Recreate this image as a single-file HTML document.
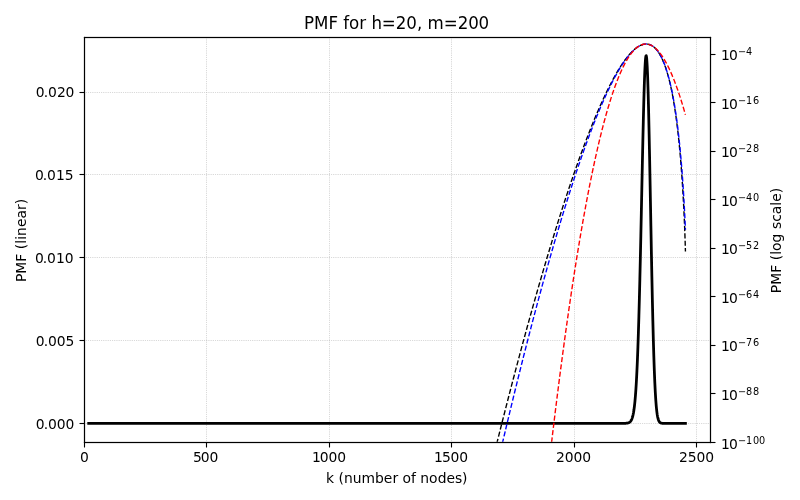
<!DOCTYPE html>
<html lang="en"><head><meta charset="utf-8"><title>PMF for h=20, m=200</title>
<style>html,body{margin:0;padding:0;background:#fff;overflow:hidden}svg{display:block}text{font-family:"DejaVu Sans","Liberation Sans",sans-serif;fill:#000}</style></head><body>
<svg width="800" height="500" viewBox="0 0 800 500">
<rect width="800" height="500" fill="#fff"/>
<defs><clipPath id="ax"><rect x="83.778" y="37.333" width="626.152" height="404.389"/></clipPath></defs>
<g stroke="#b0b0b0" stroke-width="0.6944" stroke-dasharray="0.69444 1.14583" fill="none" clip-path="url(#ax)">
<path d="M84.5 442.5V37.5"/>
<path d="M206.5 442.5V37.5"/>
<path d="M329.5 442.5V37.5"/>
<path d="M451.5 442.5V37.5"/>
<path d="M574.5 442.5V37.5"/>
<path d="M696.5 442.5V37.5"/>
<path d="M84.5 423.5H710.5"/>
<path d="M84.5 340.5H710.5"/>
<path d="M84.5 257.5H710.5"/>
<path d="M84.5 174.5H710.5"/>
<path d="M84.5 92.5H710.5"/>
</g>
<g stroke="#000" stroke-width="1.111" fill="none">
<path d="M84.5 442.5v5.0"/>
<path d="M206.5 442.5v5.0"/>
<path d="M329.5 442.5v5.0"/>
<path d="M451.5 442.5v5.0"/>
<path d="M574.5 442.5v5.0"/>
<path d="M696.5 442.5v5.0"/>
<path d="M84.5 423.5h-5.0"/>
<path d="M84.5 340.5h-5.0"/>
<path d="M84.5 257.5h-5.0"/>
<path d="M84.5 174.5h-5.0"/>
<path d="M84.5 92.5h-5.0"/>
<path d="M710.5 54.5h5.0"/>
<path d="M710.5 102.5h5.0"/>
<path d="M710.5 151.5h5.0"/>
<path d="M710.5 199.5h5.0"/>
<path d="M710.5 248.5h5.0"/>
<path d="M710.5 296.5h5.0"/>
<path d="M710.5 345.5h5.0"/>
<path d="M710.5 393.5h5.0"/>
<path d="M710.5 442.5h5.0"/>
</g>
<path d="M88.68 423.34 L622.23 423.34 L622.47 423.34 L622.72 423.33 L622.96 423.33 L623.21 423.33 L623.45 423.33 L623.70 423.33 L623.94 423.32 L624.19 423.32 L624.43 423.31 L624.68 423.31 L624.92 423.30 L625.17 423.29 L625.41 423.28 L625.66 423.27 L625.90 423.26 L626.15 423.24 L626.39 423.22 L626.64 423.20 L626.88 423.17 L627.13 423.14 L627.37 423.10 L627.62 423.05 L627.86 423.00 L628.11 422.94 L628.35 422.86 L628.60 422.78 L628.84 422.68 L629.09 422.56 L629.33 422.42 L629.58 422.26 L629.82 422.08 L630.07 421.87 L630.31 421.62 L630.56 421.34 L630.80 421.02 L631.05 420.65 L631.29 420.22 L631.54 419.74 L631.78 419.18 L632.03 418.55 L632.27 417.84 L632.52 417.03 L632.76 416.12 L633.01 415.09 L633.25 413.94 L633.50 412.64 L633.74 411.19 L633.99 409.58 L634.23 407.77 L634.48 405.77 L634.72 403.56 L634.97 401.11 L635.21 398.40 L635.46 395.43 L635.70 392.17 L635.95 388.61 L636.19 384.72 L636.44 380.49 L636.68 375.90 L636.93 370.93 L637.17 365.58 L637.42 359.82 L637.66 353.64 L637.91 347.03 L638.15 340.00 L638.40 332.52 L638.64 324.61 L638.89 316.26 L639.13 307.48 L639.38 298.28 L639.62 288.67 L639.87 278.68 L640.11 268.33 L640.36 257.65 L640.60 246.68 L640.85 235.45 L641.09 224.02 L641.34 212.43 L641.58 200.74 L641.83 189.02 L642.07 177.33 L642.32 165.74 L642.56 154.33 L642.81 143.16 L643.05 132.33 L643.30 121.91 L643.54 111.98 L643.79 102.62 L644.03 93.91 L644.28 85.92 L644.52 78.74 L644.77 72.42 L645.01 67.03 L645.26 62.63 L645.50 59.26 L645.75 56.97 L645.99 55.78 L646.24 55.71 L646.48 56.79 L646.73 59.01 L646.97 62.35 L647.22 66.80 L647.46 72.34 L647.71 78.91 L647.95 86.47 L648.20 94.95 L648.44 104.29 L648.69 114.42 L648.93 125.25 L649.18 136.69 L649.42 148.66 L649.67 161.05 L649.91 173.78 L650.16 186.75 L650.40 199.86 L650.65 213.02 L650.89 226.14 L651.14 239.14 L651.38 251.93 L651.63 264.45 L651.87 276.63 L652.12 288.41 L652.36 299.73 L652.61 310.56 L652.85 320.86 L653.10 330.60 L653.34 339.77 L653.59 348.34 L653.83 356.33 L654.08 363.72 L654.32 370.52 L654.57 376.76 L654.81 382.44 L655.06 387.60 L655.30 392.24 L655.55 396.41 L655.79 400.13 L656.04 403.43 L656.28 406.34 L656.53 408.90 L656.77 411.13 L657.02 413.07 L657.26 414.75 L657.51 416.19 L657.75 417.41 L658.00 418.46 L658.24 419.34 L658.49 420.08 L658.73 420.70 L658.98 421.21 L659.22 421.63 L659.47 421.98 L659.71 422.26 L659.96 422.49 L660.20 422.68 L660.45 422.82 L660.69 422.94 L660.94 423.03 L661.18 423.11 L661.43 423.16 L661.67 423.21 L661.92 423.24 L662.16 423.27 L662.41 423.29 L662.65 423.30 L662.90 423.31 L663.14 423.32 L663.39 423.33 L663.63 423.33 L663.87 423.33 L664.12 423.34 L664.36 423.34 L685.43 423.34" fill="none" stroke="#000" stroke-width="2.778" stroke-linecap="square" stroke-linejoin="round" clip-path="url(#ax)"/>
<path d="M482.71 501.00 L483.33 498.42 L484.06 495.37 L484.80 492.32 L485.53 489.28 L486.27 486.25 L487.00 483.22 L487.74 480.20 L488.47 477.18 L489.21 474.17 L489.94 471.16 L490.68 468.16 L491.41 465.17 L492.15 462.18 L492.88 459.20 L493.62 456.22 L494.35 453.26 L495.09 450.29 L495.82 447.34 L496.56 444.38 L497.29 441.44 L498.03 438.50 L498.76 435.57 L499.50 432.64 L500.23 429.72 L500.97 426.81 L501.70 423.90 L502.44 421.00 L503.17 418.11 L503.91 415.22 L504.64 412.34 L505.38 409.46 L506.11 406.59 L506.85 403.73 L507.58 400.87 L508.32 398.02 L509.05 395.18 L509.79 392.34 L510.52 389.51 L511.26 386.69 L511.99 383.87 L512.73 381.06 L513.46 378.26 L514.20 375.46 L514.93 372.67 L515.67 369.89 L516.40 367.11 L517.14 364.34 L517.87 361.58 L518.61 358.82 L519.34 356.07 L520.08 353.33 L520.81 350.59 L521.55 347.87 L522.28 345.14 L523.02 342.43 L523.75 339.72 L524.49 337.02 L525.22 334.33 L525.95 331.64 L526.69 328.96 L527.42 326.29 L528.16 323.63 L528.89 320.97 L529.63 318.32 L530.36 315.68 L531.10 313.04 L531.83 310.41 L532.57 307.79 L533.30 305.18 L534.04 302.58 L534.77 299.98 L535.51 297.39 L536.24 294.81 L536.98 292.23 L537.71 289.67 L538.45 287.11 L539.18 284.56 L539.92 282.01 L540.65 279.48 L541.39 276.95 L542.12 274.43 L542.86 271.92 L543.59 269.41 L544.33 266.92 L545.06 264.43 L545.80 261.95 L546.53 259.48 L547.27 257.02 L548.00 254.57 L548.74 252.12 L549.47 249.68 L550.21 247.25 L550.94 244.83 L551.68 242.42 L552.41 240.02 L553.15 237.63 L553.88 235.24 L554.62 232.86 L555.35 230.50 L556.09 228.14 L556.82 225.79 L557.56 223.45 L558.29 221.12 L559.03 218.79 L559.76 216.48 L560.50 214.18 L561.23 211.88 L561.97 209.60 L562.70 207.32 L563.44 205.06 L564.17 202.80 L564.91 200.55 L565.64 198.32 L566.38 196.09 L567.11 193.87 L567.85 191.66 L568.58 189.47 L569.32 187.28 L570.05 185.10 L570.79 182.94 L571.52 180.78 L572.25 178.64 L572.99 176.50 L573.72 174.38 L574.46 172.26 L575.19 170.16 L575.93 168.07 L576.66 165.99 L577.40 163.92 L578.13 161.86 L578.87 159.81 L579.60 157.78 L580.34 155.75 L581.07 153.74 L581.81 151.74 L582.54 149.75 L583.28 147.77 L584.01 145.81 L584.75 143.86 L585.48 141.91 L586.22 139.99 L586.95 138.07 L587.69 136.17 L588.42 134.28 L589.16 132.40 L589.89 130.53 L590.63 128.68 L591.36 126.84 L592.10 125.02 L592.83 123.21 L593.57 121.41 L594.30 119.62 L595.04 117.85 L595.77 116.10 L596.51 114.35 L597.24 112.63 L597.98 110.92 L598.71 109.22 L599.45 107.53 L600.18 105.87 L600.92 104.21 L601.65 102.58 L602.39 100.96 L603.12 99.35 L603.86 97.76 L604.59 96.19 L605.33 94.63 L606.06 93.09 L606.80 91.57 L607.53 90.06 L608.27 88.57 L609.00 87.10 L609.74 85.65 L610.47 84.22 L611.21 82.80 L611.94 81.40 L612.68 80.02 L613.41 78.66 L614.15 77.32 L614.88 76.00 L615.62 74.70 L616.35 73.42 L617.09 72.16 L617.82 70.92 L618.55 69.70 L619.29 68.51 L620.02 67.34 L620.76 66.18 L621.49 65.06 L622.23 63.95 L622.96 62.87 L623.70 61.81 L624.43 60.78 L625.17 59.77 L625.90 58.79 L626.64 57.83 L627.37 56.90 L628.11 55.99 L628.84 55.12 L629.58 54.27 L630.31 53.45 L631.05 52.66 L631.78 51.89 L632.52 51.16 L633.25 50.46 L633.99 49.79 L634.72 49.16 L635.46 48.55 L636.19 47.98 L636.93 47.44 L637.66 46.94 L638.40 46.48 L639.13 46.05 L639.87 45.66 L640.60 45.31 L641.34 45.00 L642.07 44.73 L642.81 44.50 L643.54 44.32 L644.28 44.17 L645.01 44.08 L645.75 44.03 L646.48 44.03 L647.22 44.08 L647.95 44.18 L648.69 44.33 L649.42 44.54 L650.16 44.80 L650.89 45.12 L651.63 45.50 L652.36 45.94 L653.10 46.44 L653.83 47.01 L654.57 47.65 L655.30 48.36 L656.04 49.14 L656.77 50.00 L657.51 50.94 L658.24 51.96 L658.98 53.07 L659.71 54.26 L660.45 55.55 L661.18 56.94 L661.92 58.43 L662.65 60.02 L663.39 61.73 L664.12 63.55 L664.85 65.50 L665.59 67.57 L666.32 69.79 L667.06 72.14 L667.79 74.65 L668.53 77.32 L669.26 80.16 L670.00 83.19 L670.73 86.41 L671.47 89.83 L672.20 93.49 L672.94 97.38 L673.67 101.53 L674.41 105.97 L675.14 110.71 L675.88 115.78 L676.61 121.23 L677.35 127.09 L678.08 133.40 L678.82 140.23 L679.55 147.64 L680.29 155.71 L681.02 164.57 L681.76 174.36 L682.49 185.27 L682.74 189.20 L682.98 193.31 L683.23 197.60 L683.47 202.10 L683.72 206.83 L683.96 211.82 L684.21 217.11 L684.45 222.76 L684.70 228.83 L684.94 235.44 L685.19 242.81 L685.43 251.44" fill="none" stroke="#000" stroke-width="1.389" stroke-dasharray="5.139 2.222" stroke-dashoffset="0" stroke-linejoin="round" clip-path="url(#ax)"/>
<path d="M489.08 501.00 L489.70 498.25 L490.43 495.01 L491.17 491.77 L491.90 488.54 L492.64 485.31 L493.37 482.09 L494.11 478.88 L494.84 475.68 L495.58 472.49 L496.31 469.30 L497.05 466.12 L497.78 462.94 L498.52 459.78 L499.25 456.62 L499.99 453.47 L500.72 450.32 L501.46 447.19 L502.19 444.06 L502.93 440.94 L503.66 437.82 L504.40 434.72 L505.13 431.62 L505.87 428.53 L506.60 425.44 L507.34 422.36 L508.07 419.30 L508.81 416.24 L509.54 413.18 L510.28 410.14 L511.01 407.10 L511.75 404.07 L512.48 401.05 L513.22 398.03 L513.95 395.02 L514.69 392.03 L515.42 389.03 L516.16 386.05 L516.89 383.08 L517.63 380.11 L518.36 377.15 L519.10 374.20 L519.83 371.25 L520.57 368.32 L521.30 365.39 L522.04 362.47 L522.77 359.56 L523.51 356.66 L524.24 353.77 L524.98 350.88 L525.71 348.00 L526.44 345.13 L527.18 342.27 L527.91 339.42 L528.65 336.58 L529.38 333.74 L530.12 330.91 L530.85 328.09 L531.59 325.28 L532.32 322.48 L533.06 319.69 L533.79 316.91 L534.53 314.13 L535.26 311.36 L536.00 308.61 L536.73 305.86 L537.47 303.12 L538.20 300.38 L538.94 297.66 L539.67 294.95 L540.41 292.24 L541.14 289.55 L541.88 286.86 L542.61 284.19 L543.35 281.52 L544.08 278.86 L544.82 276.21 L545.55 273.57 L546.29 270.94 L547.02 268.32 L547.76 265.71 L548.49 263.11 L549.23 260.51 L549.96 257.93 L550.70 255.36 L551.43 252.79 L552.17 250.24 L552.90 247.70 L553.64 245.16 L554.37 242.64 L555.11 240.13 L555.84 237.62 L556.58 235.13 L557.31 232.65 L558.05 230.17 L558.78 227.71 L559.52 225.26 L560.25 222.81 L560.99 220.38 L561.72 217.96 L562.46 215.55 L563.19 213.15 L563.93 210.76 L564.66 208.39 L565.40 206.02 L566.13 203.66 L566.87 201.32 L567.60 198.98 L568.34 196.66 L569.07 194.35 L569.81 192.05 L570.54 189.76 L571.28 187.48 L572.01 185.22 L572.74 182.96 L573.48 180.72 L574.21 178.49 L574.95 176.27 L575.68 174.07 L576.42 171.87 L577.15 169.69 L577.89 167.52 L578.62 165.36 L579.36 163.22 L580.09 161.09 L580.83 158.97 L581.56 156.86 L582.30 154.77 L583.03 152.68 L583.77 150.62 L584.50 148.56 L585.24 146.52 L585.97 144.49 L586.71 142.48 L587.44 140.48 L588.18 138.49 L588.91 136.52 L589.65 134.56 L590.38 132.62 L591.12 130.69 L591.85 128.77 L592.59 126.87 L593.32 124.99 L594.06 123.11 L594.79 121.26 L595.53 119.42 L596.26 117.59 L597.00 115.78 L597.73 113.99 L598.47 112.21 L599.20 110.45 L599.94 108.70 L600.67 106.97 L601.41 105.26 L602.14 103.56 L602.88 101.89 L603.61 100.22 L604.35 98.58 L605.08 96.95 L605.82 95.34 L606.55 93.75 L607.29 92.18 L608.02 90.62 L608.76 89.09 L609.49 87.57 L610.23 86.07 L610.96 84.59 L611.70 83.13 L612.43 81.70 L613.17 80.28 L613.90 78.88 L614.64 77.50 L615.37 76.15 L616.11 74.81 L616.84 73.50 L617.58 72.21 L618.31 70.94 L619.04 69.69 L619.78 68.47 L620.51 67.27 L621.25 66.09 L621.98 64.94 L622.72 63.82 L623.45 62.71 L624.19 61.64 L624.92 60.59 L625.66 59.56 L626.39 58.57 L627.13 57.59 L627.86 56.65 L628.60 55.74 L629.33 54.85 L630.07 54.00 L630.80 53.17 L631.54 52.38 L632.27 51.61 L633.01 50.88 L633.74 50.18 L634.48 49.51 L635.21 48.88 L635.95 48.28 L636.68 47.72 L637.42 47.19 L638.15 46.70 L638.89 46.25 L639.62 45.83 L640.36 45.46 L641.09 45.13 L641.83 44.84 L642.56 44.59 L643.30 44.38 L644.03 44.22 L644.77 44.11 L645.50 44.04 L646.24 44.02 L646.97 44.06 L647.71 44.14 L648.44 44.27 L649.18 44.46 L649.91 44.70 L650.65 45.00 L651.39 45.36 L652.12 45.78 L652.86 46.27 L653.60 46.82 L654.33 47.43 L655.07 48.12 L655.81 48.88 L656.55 49.71 L657.29 50.62 L658.02 51.61 L658.76 52.69 L659.50 53.86 L660.24 55.11 L660.98 56.47 L661.72 57.92 L662.46 59.48 L663.20 61.15 L663.95 62.93 L664.69 64.83 L665.43 66.87 L666.17 69.03 L666.92 71.34 L667.66 73.80 L668.41 76.41 L669.15 79.19 L669.90 82.16 L670.64 85.31 L671.39 88.67 L672.14 92.24 L672.89 96.05 L673.64 100.12 L674.39 104.45 L675.14 109.09 L675.90 114.05 L676.65 119.37 L677.41 125.09 L678.17 131.24 L678.93 137.89 L679.69 145.10 L680.45 152.94 L681.22 161.52 L681.99 170.98 L682.51 177.86 L682.76 181.49 L683.02 185.27 L683.28 189.20 L683.54 193.31 L683.80 197.60 L684.07 202.10 L684.33 206.83 L684.59 211.82 L684.86 217.11 L685.12 222.76 L685.39 228.83 L685.43 229.83" fill="none" stroke="#00f" stroke-width="1.389" stroke-dasharray="5.139 2.222" stroke-dashoffset="0" stroke-linejoin="round" clip-path="url(#ax)"/>
<path d="M544.90 501.00 L545.55 495.07 L546.29 488.48 L547.02 481.93 L547.76 475.44 L548.49 468.99 L549.23 462.59 L549.96 456.24 L550.70 449.94 L551.43 443.69 L552.17 437.48 L552.90 431.33 L553.64 425.22 L554.37 419.16 L555.11 413.15 L555.84 407.19 L556.58 401.28 L557.31 395.41 L558.05 389.60 L558.78 383.83 L559.52 378.11 L560.25 372.44 L560.99 366.82 L561.72 361.25 L562.46 355.72 L563.19 350.24 L563.93 344.82 L564.66 339.44 L565.40 334.11 L566.13 328.82 L566.87 323.59 L567.60 318.41 L568.34 313.27 L569.07 308.18 L569.81 303.14 L570.54 298.15 L571.28 293.21 L572.01 288.32 L572.74 283.47 L573.48 278.67 L574.21 273.92 L574.95 269.23 L575.68 264.57 L576.42 259.97 L577.15 255.42 L577.89 250.91 L578.62 246.45 L579.36 242.05 L580.09 237.69 L580.83 233.37 L581.56 229.11 L582.30 224.90 L583.03 220.73 L583.77 216.61 L584.50 212.55 L585.24 208.53 L585.97 204.55 L586.71 200.63 L587.44 196.76 L588.18 192.93 L588.91 189.15 L589.65 185.42 L590.38 181.74 L591.12 178.11 L591.85 174.53 L592.59 170.99 L593.32 167.51 L594.06 164.07 L594.79 160.68 L595.53 157.34 L596.26 154.05 L597.00 150.80 L597.73 147.61 L598.47 144.46 L599.20 141.36 L599.94 138.31 L600.67 135.31 L601.41 132.36 L602.14 129.46 L602.88 126.60 L603.61 123.79 L604.35 121.04 L605.08 118.33 L605.82 115.66 L606.55 113.05 L607.29 110.49 L608.02 107.97 L608.76 105.51 L609.49 103.09 L610.23 100.72 L610.96 98.39 L611.70 96.12 L612.43 93.90 L613.17 91.72 L613.90 89.59 L614.64 87.52 L615.37 85.49 L616.11 83.50 L616.84 81.57 L617.58 79.69 L618.31 77.85 L619.04 76.06 L619.78 74.32 L620.51 72.63 L621.25 70.99 L621.98 69.40 L622.72 67.85 L623.45 66.36 L624.19 64.91 L624.92 63.51 L625.66 62.16 L626.39 60.85 L627.13 59.60 L627.86 58.40 L628.60 57.24 L629.33 56.13 L630.07 55.07 L630.80 54.06 L631.54 53.10 L632.27 52.18 L633.01 51.32 L633.74 50.50 L634.48 49.73 L635.21 49.01 L635.95 48.34 L636.68 47.72 L637.42 47.14 L638.15 46.62 L638.89 46.14 L639.62 45.71 L640.36 45.33 L641.09 45.00 L641.83 44.72 L642.56 44.48 L643.30 44.30 L644.03 44.16 L644.77 44.07 L645.50 44.03 L646.24 44.04 L646.97 44.10 L647.71 44.20 L648.44 44.35 L649.18 44.56 L649.91 44.81 L650.65 45.11 L651.38 45.45 L652.12 45.85 L652.85 46.30 L653.59 46.79 L654.32 47.33 L655.06 47.92 L655.79 48.56 L656.53 49.25 L657.26 49.98 L658.00 50.77 L658.73 51.60 L659.47 52.48 L660.20 53.41 L660.94 54.39 L661.67 55.42 L662.41 56.50 L663.14 57.62 L663.87 58.79 L664.61 60.02 L665.34 61.29 L666.08 62.60 L666.81 63.97 L667.55 65.39 L668.28 66.85 L669.02 68.36 L669.75 69.92 L670.49 71.53 L671.22 73.19 L671.96 74.90 L672.69 76.66 L673.43 78.46 L674.16 80.31 L674.90 82.21 L675.63 84.16 L676.37 86.16 L677.10 88.21 L677.84 90.30 L678.57 92.45 L679.31 94.64 L680.04 96.88 L680.78 99.17 L681.51 101.51 L682.25 103.89 L682.49 104.70 L682.74 105.51 L682.98 106.33 L683.23 107.15 L683.47 107.98 L683.72 108.81 L683.96 109.65 L684.21 110.49 L684.45 111.34 L684.70 112.20 L684.94 113.06 L685.19 113.92 L685.43 114.79" fill="none" stroke="#f00" stroke-width="1.389" stroke-dasharray="5.139 2.222" stroke-dashoffset="0" stroke-linejoin="round" clip-path="url(#ax)"/>
<g fill="#000"><rect x="83.9445" y="36.9445" width="1.1111" height="406.1111"/><rect x="709.9444" y="36.9445" width="1.1111" height="406.1111"/><rect x="83.9445" y="36.9445" width="627.1111" height="1.1111"/><rect x="83.9445" y="441.9445" width="627.1111" height="1.1111"/></g>
<g fill="#000"><rect x="83.9445" y="36.9445" width="1.1111" height="406.1111"/><rect x="709.9444" y="36.9445" width="1.1111" height="406.1111"/><rect x="83.9445" y="36.9445" width="627.1111" height="1.1111"/><rect x="83.9445" y="441.9445" width="627.1111" height="1.1111"/></g>
<g font-size="13.889px">
<text x="80.01" y="462.0">0</text>
<text x="192.96 200.80 209.38" y="462.0">500</text>
<text x="311.88 319.71 328.55 337.14" y="462.0">1000</text>
<text x="434.11 441.95 450.54 459.37" y="462.0">1500</text>
<text x="556.05 564.64 573.47 582.31" y="462.0">2000</text>
<text x="678.89 687.72 696.56 705.15" y="462.0">2500</text>
<text x="35.67 43.76 47.92 56.76 65.59" y="428.64">0.000</text>
<text x="35.65 43.74 47.90 56.74 65.57" y="345.68">0.005</text>
<text x="34.90 42.74 46.90 55.99 64.82" y="262.73">0.010</text>
<text x="34.90 42.74 46.90 55.99 64.82" y="179.77">0.015</text>
<text x="35.86 43.70 48.11 56.95 65.53" y="96.81">0.020</text>
<text y="60.00"><tspan x="721.00 729.04">10</tspan><tspan x="737.97 746.12" y="54.70" font-size="9.722px">−4</tspan></text>
<text y="109.00"><tspan x="721.00 729.04">10</tspan><tspan x="737.97 746.12 753.05" y="103.70" font-size="9.722px">−16</tspan></text>
<text y="157.00"><tspan x="721.00 729.04">10</tspan><tspan x="737.97 746.12 753.05" y="151.70" font-size="9.722px">−28</tspan></text>
<text y="206.00"><tspan x="721.00 729.04">10</tspan><tspan x="737.97 746.12 753.05" y="200.70" font-size="9.722px">−40</tspan></text>
<text y="254.00"><tspan x="721.00 729.04">10</tspan><tspan x="737.97 746.12 753.05" y="248.70" font-size="9.722px">−52</tspan></text>
<text y="303.00"><tspan x="721.00 729.04">10</tspan><tspan x="737.97 746.12 753.05" y="297.70" font-size="9.722px">−64</tspan></text>
<text y="351.00"><tspan x="721.00 729.04">10</tspan><tspan x="737.97 746.12 753.05" y="345.70" font-size="9.722px">−76</tspan></text>
<text y="400.00"><tspan x="721.00 729.04">10</tspan><tspan x="737.97 746.12 753.05" y="394.70" font-size="9.722px">−88</tspan></text>
<text y="449.00"><tspan x="721.00 729.04">10</tspan><tspan x="737.97 746.12 753.05 758.99" y="443.70" font-size="9.722px">−100</tspan></text>
<text x="326.04 334.09 338.50 343.92 352.72 361.52 375.05 383.87 392.41 398.12 402.54 411.04 415.93 420.34 428.89 437.64 446.46 455.00 461.99" y="483.0">k (number of nodes)</text>
<text transform="translate(26.24 240.4) rotate(-90)" text-anchor="middle" letter-spacing="0.05">PMF (linear)</text>
<text transform="translate(780.6 240.45) rotate(-90)" text-anchor="middle" letter-spacing="0.04">PMF (log scale)</text>
</g>
<text transform="translate(0 28.5) scale(1 1.07)" x="304.11 313.91 328.54 337.88 343.18 349.05 359.24 366.09 371.39 381.71 395.67 406.28 417.13 422.43 427.48 443.71 457.68 468.28 478.38" font-size="16.667px">PMF for h=20, m=200</text>
</svg></body></html>
